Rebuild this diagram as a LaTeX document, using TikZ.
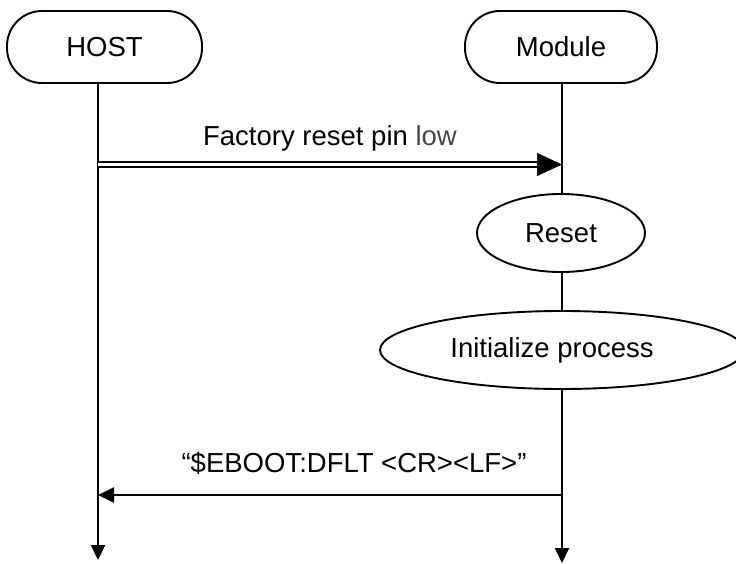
\documentclass[tikz,border=0pt]{standalone}
\usepackage{fontspec}
\setmainfont{Liberation Sans}
\usetikzlibrary{arrows.meta,shapes.geometric}
\begin{document}
\begin{tikzpicture}[x=1pt,y=1pt,
  lbl/.style={font=\fontsize{27.5}{33}\selectfont},
  actor/.style={draw, line width=1.9pt, rounded corners=35pt, minimum height=72pt, fill=white, lbl},
  state/.style={draw, ellipse, line width=1.9pt, fill=white, inner sep=0pt, minimum height=78pt, lbl},
  life/.style={line width=2pt, -{Triangle[length=15pt,width=14pt]}},
  msg/.style={line width=2pt, -{Triangle[length=16pt,width=15pt]}},
  dblmsg/.style={line width=2.1pt, double, double distance=2.4pt},
  bigtip/.style={line width=0.5pt, -{Triangle[length=25pt,width=23pt]}},
]
\useasboundingbox (0,0) rectangle (736,-564);
\clip (0,0) rectangle (736,-564);

% lifeline anchors
\coordinate (hostTop) at (98,-83);
\coordinate (hostEnd) at (98,-560);
\coordinate (modTop) at (562,-83);
\coordinate (modEnd) at (562,-563);

% lifelines
\draw[life] (hostTop) -- (hostEnd);
\draw[life] (modTop) -- (modEnd);

% actors
\node[actor, minimum width=195pt] (host) at (104.5,-47) {HOST};
\node[actor, minimum width=192pt] (module) at (561,-47) {Module};

% factory reset request
\coordinate (m1s) at (98,-164.5);
\coordinate (m1e) at (562,-164.5);
\coordinate (m1t) at (537,-164.5);
\draw[dblmsg] (m1s) -- ([xshift=-20pt]m1e);
\draw[bigtip] (m1t) -- (m1e);
\node[lbl] (m1lbl) at (330,-138) {Factory reset pin {\color{black!72}low}};

% module states
\node[state, minimum width=168pt] (reset) at (561,-233) {Reset};
\node[state, minimum width=364pt] (init) at (562,-350) {Initialize process\hspace*{20pt}};

% boot response
\coordinate (m2s) at (562,-495);
\coordinate (m2e) at (98,-495);
\draw[msg] (m2s) -- (m2e);
\node[lbl] (m2lbl) at (354,-463) {“\$EBOOT:DFLT <CR><LF>”};
\end{tikzpicture}
\end{document}
